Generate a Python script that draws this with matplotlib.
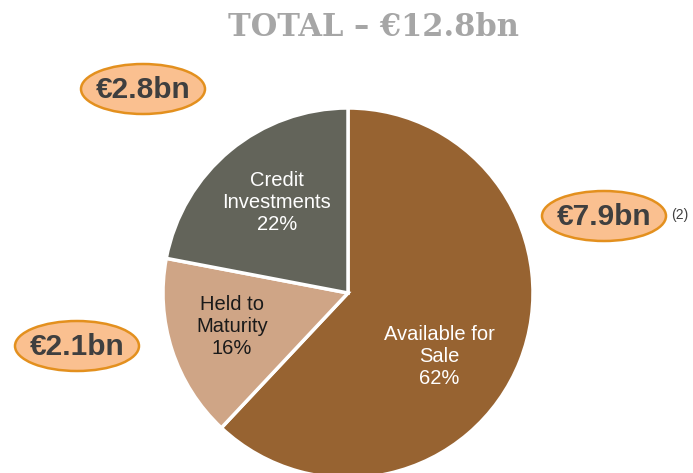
import matplotlib
matplotlib.use("Agg")
import matplotlib.pyplot as plt
from matplotlib.patches import Ellipse

categories = ["Available for\nSale", "Held to\nMaturity", "Credit\nInvestments"]
shares = [62, 16, 22]
amounts = ["€7.9bn", "€2.1bn", "€2.8bn"]
title = "TOTAL – €12.8bn"
colors = ["#976331", "#CFA586", "#63645A"]
text_colors = ["white", "#1a1a1a", "white"]

W, H = 693, 473
fig = plt.figure(figsize=(W / 100, H / 100), dpi=100)
ax = fig.add_axes([0, 0, 1, 1])

def Y(y):
    return H - y

cx, cy, r = 348, Y(293), 185
wedges, _ = ax.pie(shares, colors=colors, startangle=90, counterclock=False,
                   center=(cx, cy), radius=r,
                   wedgeprops=dict(edgecolor="white", linewidth=2.5))
ax.set_xlim(0, W)
ax.set_ylim(0, H)
ax.set_aspect("equal")
ax.axis("off")

label_pos = [(439, 356), (232, 326), (277, 202)]
for cat, s, (x, y), tc in zip(categories, shares, label_pos, text_colors):
    ax.text(x, Y(y), f"{cat}\n{s}%", ha="center", va="center", fontsize=14.5,
            color=tc, family="Liberation Sans", linespacing=1.2)

bubble_pos = [(604, 216), (77, 346), (143, 89)]
for amt, (x, y) in zip(amounts, bubble_pos):
    ax.add_patch(Ellipse((x, Y(y)), 124, 50, facecolor="#FAC090",
                         edgecolor="#E3901E", linewidth=1.8, zorder=3))
    ax.text(x, Y(y) - 1, amt, ha="center", va="center", fontsize=21.5,
            fontweight="bold", color="#3F3F3F", family="Liberation Sans", zorder=4)

ax.text(680, Y(215), "(2)", ha="center", va="center", fontsize=10,
        color="#404040", family="Liberation Sans")

ax.text(374, Y(28), title, ha="center", va="center", fontsize=22,
        fontweight="bold", color="#A6A6A6", family="DejaVu Serif")

fig.savefig("out.png", dpi=100)
